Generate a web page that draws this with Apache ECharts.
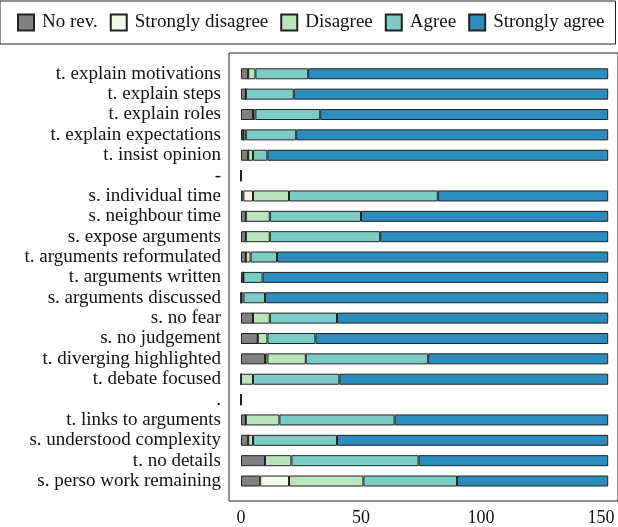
<!DOCTYPE html>
<html>
<head>
<meta charset="utf-8">
<script src="https://cdn.jsdelivr.net/npm/echarts@6/dist/echarts.min.js"></script>
<style>html,body{margin:0;padding:0;background:#fff}#c{width:618px;height:527px}</style>
</head>
<body>
<div id="c"></div>
<script>
var categories = ["t. explain motivations","t. explain steps","t. explain roles","t. explain expectations","t. insist opinion","-","s. individual time","s. neighbour time","s. expose arguments","t. arguments reformulated","t. arguments written","s. arguments discussed","s. no fear","s. no judgement","t. diverging highlighted","t. debate focused",".","t. links to arguments","s. understood complexity","t. no details","s. perso work remaining"];
var noRev          = [3,2,5,1,3,0,1,2,2,2,1,0,5,7,10,0,0,2,3,10,8];
var stronglyDis    = [0,0,0,0,0,0,4,0,0,0,0,0,0,0,1,0,0,0,0,0,12];
var disagree       = [3,0,1,1,2,0,15,10,10,2,0,1,7,4,16,5,0,14,2,11,31];
var agree          = [22,20,27,21,6,0,62,38,46,11,8,9,28,20,51,36,0,48,35,53,39];
var stronglyAgree  = [125,131,120,130,142,0,71,103,95,138,144,143,113,122,75,112,0,89,113,79,63];
var xTicks = [0,50,100,150];

var seriesNames = ["No rev.","Strongly disagree","Disagree","Agree","Strongly agree"];
var seriesData = [noRev, stronglyDis, disagree, agree, stronglyAgree];
var colors = ["#808080","#f0f9e8","#bae4bc","#7bccc4","#2b8cbe"];
var FONT = "Liberation Serif";

var chart = echarts.init(document.getElementById('c'), null, {renderer:'canvas'});
var option = {
  animation: false,
  textStyle: {fontFamily: FONT},
  legend: {
    left: 0, top: 1,
    padding: [12, 11, 12, 17],
    borderColor: '#222', borderWidth: 1, borderRadius: 0,
    itemWidth: 16, itemHeight: 16, itemGap: 12,
    icon: 'rect',
    textStyle: {fontFamily: FONT, fontSize: 19, color: '#111', padding: [0,0,0,3]},
    data: seriesNames
  },
  grid: [
    {left: 229, top: 63.6, width: 388.8, height: 427.6, containLabel: false},
    {left: 229, top: 53, right: -20, bottom: 26, show: true, borderColor: '#222', borderWidth: 1, backgroundColor: 'transparent'}
  ],
  xAxis: [
    {type: 'value', gridIndex: 0, min: -5, max: 157, position: 'bottom', offset: 9.8,
     axisLine: {show: false}, axisTick: {show: false}, splitLine: {show: false},
     axisLabel: {customValues: xTicks, fontFamily: FONT, fontSize: 18, color: '#111', margin: 8}},
    {type: 'value', gridIndex: 1, min: 0, max: 1, show: false}
  ],
  yAxis: [
    {type: 'category', gridIndex: 0, data: categories, inverse: true,
     axisLine: {show: false}, axisTick: {show: false},
     axisLabel: {interval: 0, fontFamily: FONT, fontSize: 19, color: '#111', margin: 8}},
    {type: 'value', gridIndex: 1, min: 0, max: 1, show: false}
  ],
  series: seriesData.map(function(d, i){
    return {
      name: seriesNames[i], type: 'bar', stack: 'total', xAxisIndex: 0, yAxisIndex: 0,
      barWidth: 11, data: d,
      itemStyle: {color: colors[i], borderColor: '#222', borderWidth: 1}
    };
  })
};
chart.setOption(option);
</script>
</body>
</html>
